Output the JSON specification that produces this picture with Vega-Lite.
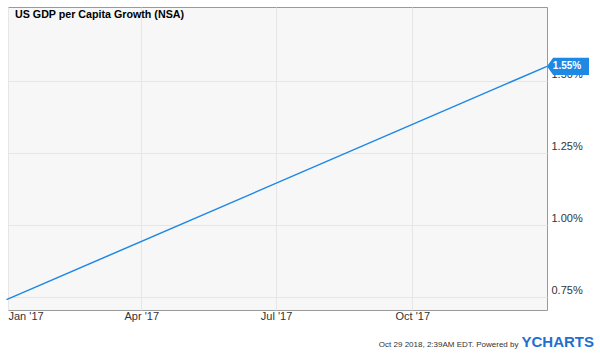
{
  "$schema": "https://vega.github.io/schema/vega-lite/v6.json",
  "autosize": {"type": "none"},
  "padding": {"left": 8, "top": 7, "right": 53, "bottom": 43},
  "width": 539,
  "height": 303,
  "background": "#ffffff",
  "title": {
    "text": "US GDP per Capita Growth (NSA)",
    "anchor": "start",
    "frame": "group",
    "orient": "top",
    "offset": -24,
    "dx": 7,
    "fontSize": 10.7,
    "fontWeight": "bold",
    "font": "Liberation Sans",
    "color": "#000000",
    "baseline": "bottom"
  },
  "config": {
    "view": {"fill": "#f7f7f7", "stroke": "#999999", "strokeWidth": 1},
    "axis": {
      "labelFont": "Liberation Sans",
      "labelFontSize": 11,
      "labelColor": "#333333",
      "gridColor": "#e6e6e6",
      "gridWidth": 1,
      "domain": false,
      "ticks": false
    }
  },
  "data": {
    "values": [
      {"date": "2016-12-31", "value": 0.74},
      {"date": "2017-12-31", "value": 1.55}
    ]
  },
  "layer": [
    {
      "mark": {"type": "line", "color": "#1e88e5", "strokeWidth": 1.5},
      "encoding": {
        "x": {
          "field": "date",
          "type": "temporal",
          "scale": {"type": "utc", "domain": [{"year": 2017, "month": 1, "date": 1, "utc": true}, {"year": 2017, "month": 12, "date": 31, "utc": true}]},
          "axis": {
            "values": [
              {"year": 2017, "month": 1, "date": 1, "utc": true},
              {"year": 2017, "month": 4, "date": 1, "utc": true},
              {"year": 2017, "month": 7, "date": 1, "utc": true},
              {"year": 2017, "month": 10, "date": 1, "utc": true}
            ],
            "labelExpr": "utcFormat(datum.value, \"%b '%y\")",
            "labelFlush": true,
            "labelPadding": 0,
            "title": "Oct 29 2018, 2:39AM EDT.  Powered by",
            "titleFont": "Liberation Sans",
            "titleFontSize": 8,
            "titleFontWeight": "normal",
            "titleColor": "#333333",
            "titleAnchor": "start",
            "titleAlign": "right",
            "titleBaseline": "alphabetic",
            "titleX": 510,
            "titleY": 36
          }
        },
        "y": {
          "field": "value",
          "type": "quantitative",
          "scale": {"domain": [0.704, 1.756], "nice": false, "zero": false},
          "axis": {
            "orient": "right",
            "values": [0.75, 1.0, 1.25, 1.5],
            "labelExpr": "format(datum.value, '.2f') + '%'",
            "labelAlign": "left",
            "labelBaseline": "alphabetic",
            "labelOffset": -3,
            "labelPadding": 4,
            "title": "YCHARTS",
            "titleFont": "Liberation Sans",
            "titleFontSize": 15,
            "titleFontWeight": "bold",
            "titleColor": "#1f6fd1",
            "titleAngle": 0,
            "titleAlign": "left",
            "titleBaseline": "alphabetic",
            "titleX": -26,
            "titleY": 339
          }
        }
      }
    },
    {
      "data": {"values": [{"date": "2017-12-31", "value": 1.55, "label": "1.55%"}]},
      "mark": {
        "type": "point",
        "shape": "M0,0L0.3,-0.42L2.05,-0.42L2.05,0.42L0.3,0.42Z",
        "size": 1680,
        "filled": true,
        "fill": "#1e88e5",
        "opacity": 1,
        "strokeWidth": 0
      },
      "encoding": {
        "x": {"field": "date", "type": "temporal"},
        "y": {"field": "value", "type": "quantitative"}
      }
    },
    {
      "data": {"values": [{"date": "2017-12-31", "value": 1.55, "label": "1.55%"}]},
      "mark": {
        "type": "text",
        "dx": 20,
        "align": "center",
        "baseline": "middle",
        "font": "Liberation Sans",
        "fontSize": 10,
        "fontWeight": "bold",
        "color": "#ffffff"
      },
      "encoding": {
        "x": {"field": "date", "type": "temporal"},
        "y": {"field": "value", "type": "quantitative"},
        "text": {"field": "label"}
      }
    }
  ]
}
